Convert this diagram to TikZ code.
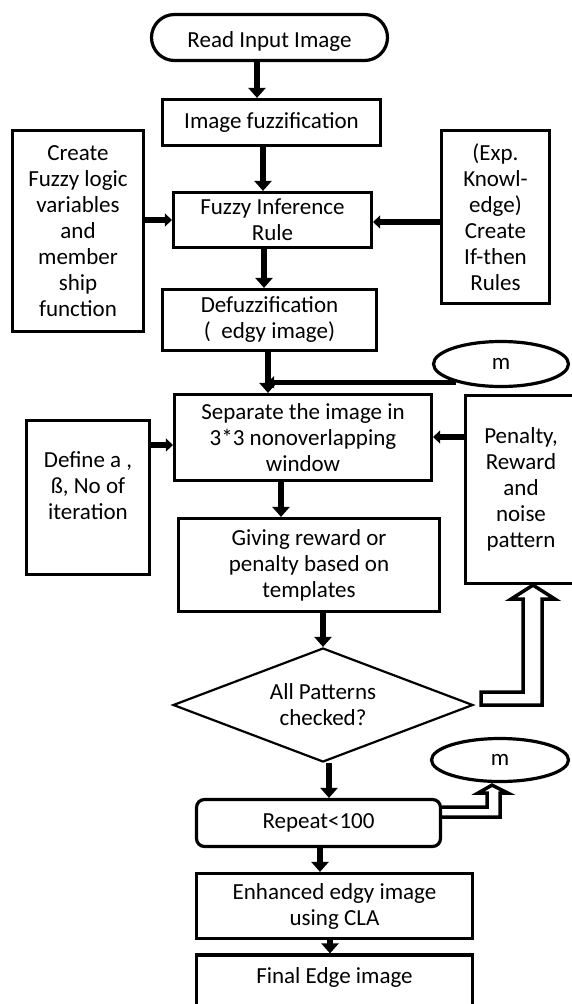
\documentclass[tikz,border=0pt]{standalone}
\usepackage{fontspec}
\setmainfont{Carlito}
\usetikzlibrary{shapes.geometric,shapes.misc,arrows.meta,calc}
\newcommand{\flowfont}{\fontsize{23}{26}\selectfont}
\begin{document}
\begin{tikzpicture}[x=1pt,y=-1pt,
  box/.style={draw, line width=3.2pt, rectangle, align=center, font=\flowfont, inner sep=1pt},
  term/.style={draw, line width=3.2pt, rounded rectangle, align=center, font=\flowfont, inner sep=1pt},
  oval/.style={draw, line width=3.2pt, ellipse, font=\flowfont, inner sep=1pt},
  decision/.style={draw, line width=2.2pt, diamond, aspect=2.63, inner sep=0pt, align=center, font=\flowfont},
  arr/.style={line width=6pt, -{Triangle[width=17pt,length=10pt]}},
  harr/.style={line width=6pt, -{Triangle[width=13pt,length=7pt]}},
  sarr/.style={line width=5pt, -{Triangle[width=12pt,length=6pt]}},
  hollow/.style={line width=3.5pt, line join=miter}]
\useasboundingbox (0,0) rectangle (571,1004);

% nodes
\node[term, minimum width=238pt, minimum height=46pt, text height=24pt] (read) at (269.5,37.5) {Read Input Image};
\node[box, minimum width=218pt, minimum height=46pt] (fuzz) at (271.5,122.5) {Image fuzzification};
\node[box, minimum width=198pt, minimum height=55pt] (fir) at (272.5,220) {Fuzzy Inference\\Rule};
\node[box, minimum width=131pt, minimum height=201pt] (left1) at (78,231) {Create\\Fuzzy logic\\variables\\and\\member\\ship\\function};
\node[box, minimum width=108pt, minimum height=173pt] (right1) at (495.5,217) {(Exp.\\Knowl-\\edge)\\Create\\If-then\\Rules};
\node[box, minimum width=214pt, minimum height=61pt] (defuzz) at (269.5,320) {Defuzzification\\(\ \ edgy image)};
\node[oval, minimum width=135pt, minimum height=45pt] (m1) at (501,364) {m};
\node[box, minimum width=257pt, minimum height=86pt] (sep) at (303,437.5) {Separate the image in\\3*3 nonoverlapping\\window};
\node[box, minimum width=123pt, minimum height=154pt, text depth=24pt] (left2) at (88,497.5) {Define a ,\\ß, No of\\iteration};
\node[box, minimum width=111pt, minimum height=188pt] (right2) at (521,489.5) {Penalty,\\Reward\\and\\noise\\pattern};
\node[box, minimum width=261pt, minimum height=93pt] (giving) at (309,565) {Giving reward or\\penalty based on\\templates};
\node[decision, minimum width=300pt, minimum height=114pt] (dia) at (323,705) {All Patterns\\checked?};
\node[box, rounded corners=8pt, minimum width=244pt, minimum height=47pt] (repeat) at (318.5,823) {Repeat<100};
\node[oval, minimum width=137pt, minimum height=43pt] (m2) at (500,760) {m};
\node[box, minimum width=276pt, minimum height=65pt] (enh) at (334.5,906) {Enhanced edgy image\\using CLA};
\node[box, minimum width=276pt, minimum height=54pt, text depth=12pt] (final) at (334.5,982) {Final Edge image};

% column / row helpers
\coordinate (a1) at (257,0);
\coordinate (a2) at (263,0);
\coordinate (a3) at (264,0);
\coordinate (a4) at (268,0);
\coordinate (a5) at (281,0);
\coordinate (a7) at (329,0);
\coordinate (a8) at (320,0);
\coordinate (a9) at (330,0);
\coordinate (h1) at (0,220);
\coordinate (h2) at (0,222);
\coordinate (h3) at (0,445);
\coordinate (h4) at (0,437);

% main flow
\draw[arr] (read.south -| a1) -- (fuzz.north -| a1);
\draw[arr] (fuzz.south -| a2) -- (fir.north -| a2);
\draw[arr] (fir.south -| a3) -- (defuzz.north -| a3);
\draw[arr] (defuzz.south -| a4) -- (sep.north -| a4);
\draw[sarr] (m1.202) -- (m1.202 -| a4);
\draw[arr] (sep.south -| a5) -- (giving.north -| a5);
\draw[arr] (giving.south -| dia.north) -- (dia.north);
\draw[arr] (dia.south -| a7) -- (repeat.north -| a7);
\draw[arr] (repeat.south -| a8) -- (enh.north -| a8);
\draw[arr] (enh.south -| a9) -- (final.north -| a9);

% side inputs
\draw[harr] (left1.east |- h1) -- (fir.west |- h1);
\draw[harr] (right1.west |- h2) -- (fir.east |- h2);
\draw[harr] (left2.east |- h3) -- (sep.west |- h3);
\draw[harr] (right2.west |- h4) -- (sep.east |- h4);

% hollow arrow: decision -> penalty box
\coordinate (t1) at ($(right2.south)+(12,0)$);
\coordinate (d1) at ($(dia.east)+(7,0)$);
\draw[hollow] ($(d1)+(0,-13)$) -| ($(t1)+(-10,14)$) -- ++(-12,0) -- (t1) -- ++(22,14) -- ++(-13,0) |- (d1) -- cycle;

% hollow arrow: repeat -> m
\coordinate (t2) at ($(m2.south)+(-8,2)$);
\draw[hollow] ($(repeat.east)+(0,-16)$) -| ($(t2)+(-5,8)$) -- ++(-9,0) -- (t2) -- ++(16,8) -- ++(-8,0) |- ($(repeat.east)+(0,-6)$);
\end{tikzpicture}
\end{document}
